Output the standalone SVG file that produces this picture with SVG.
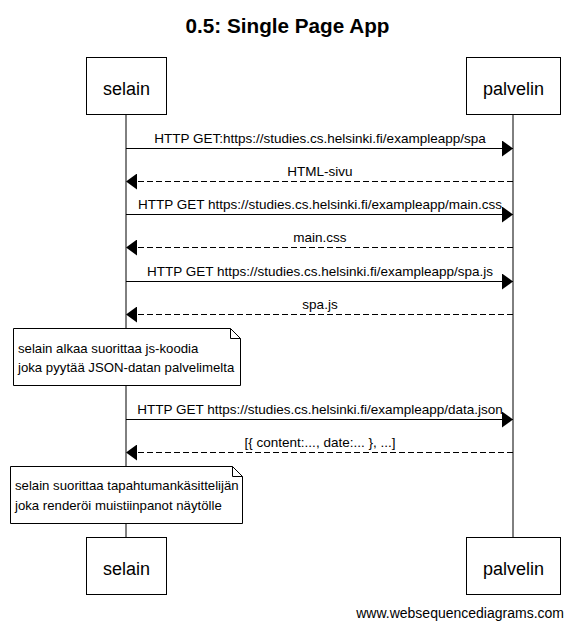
<svg xmlns="http://www.w3.org/2000/svg" width="575" height="629" viewBox="0 0 575 629">
<style>
text{font-family:"Liberation Sans",Arial,sans-serif;fill:#000}
.t{font-size:13.2px}
.a{font-size:18px;text-anchor:middle}
.m{font-size:13.5px;text-anchor:middle}
.box{fill:#fff;stroke:#000;stroke-width:1}
.ll{stroke:#000;stroke-width:1}
.sol{stroke:#000;stroke-width:1;fill:none}
.dash{stroke:#000;stroke-width:1;fill:none;stroke-dasharray:6,3}
</style>
<defs>
<marker id="ah" markerWidth="11" markerHeight="16" refX="11" refY="8" orient="auto" markerUnits="userSpaceOnUse">
<path d="M0,0 L11,8 L0,16 Z" fill="#000"/>
</marker>
</defs>
<rect width="575" height="629" fill="#fff"/>
<text x="287.5" y="33" style="font-size:20.7px;font-weight:bold;text-anchor:middle">0.5: Single Page App</text>
<g id="lifelines">
<line class="ll" x1="126" y1="114" x2="126" y2="537"/>
<line class="ll" x1="513" y1="114" x2="513" y2="537"/>
</g>
<g id="selain-top"><rect class="box" x="86.5" y="57.5" width="80" height="57"/><text class="a" x="126.5" y="95">selain</text></g>
<g id="palvelin-top"><rect class="box" x="466.5" y="57.5" width="94" height="57"/><text class="a" x="513.5" y="95">palvelin</text></g>
<g id="selain-bottom"><rect class="box" x="86.5" y="537.5" width="80" height="57"/><text class="a" x="126.5" y="575">selain</text></g>
<g id="palvelin-bottom"><rect class="box" x="466.5" y="537.5" width="94" height="57"/><text class="a" x="513.5" y="575">palvelin</text></g>
<g id="connectors">
<line class="sol" x1="126" y1="148.5" x2="513" y2="148.5" marker-end="url(#ah)"/>
<text class="m" x="320" y="143">HTTP GET:https://studies.cs.helsinki.fi/exampleapp/spa</text>
<line class="dash" x1="513" y1="181.5" x2="126" y2="181.5" marker-end="url(#ah)"/>
<text class="m" x="320" y="176">HTML-sivu</text>
<line class="sol" x1="126" y1="214.5" x2="513" y2="214.5" marker-end="url(#ah)"/>
<text class="m" x="320" y="209">HTTP GET https://studies.cs.helsinki.fi/exampleapp/main.css</text>
<line class="dash" x1="513" y1="247.5" x2="126" y2="247.5" marker-end="url(#ah)"/>
<text class="m" x="320" y="242">main.css</text>
<line class="sol" x1="126" y1="281.5" x2="513" y2="281.5" marker-end="url(#ah)"/>
<text class="m" x="320" y="276">HTTP GET https://studies.cs.helsinki.fi/exampleapp/spa.js</text>
<line class="dash" x1="513" y1="314.5" x2="126" y2="314.5" marker-end="url(#ah)"/>
<text class="m" x="320" y="309">spa.js</text>
<line class="sol" x1="126" y1="419.5" x2="513" y2="419.5" marker-end="url(#ah)"/>
<text class="m" x="320" y="414">HTTP GET https://studies.cs.helsinki.fi/exampleapp/data.json</text>
<line class="dash" x1="513" y1="452.5" x2="126" y2="452.5" marker-end="url(#ah)"/>
<text class="m" x="320" y="447">[{ content:..., date:... }, ...]</text>
</g>
<g id="note1">
<path class="box" d="M13.5,328.5 H230.5 L240.5,338.5 V385.5 H13.5 Z"/>
<path class="sol" d="M230.5,328.5 V338.5 H240.5"/>
<text class="t" x="18" y="353">selain alkaa suorittaa js-koodia</text>
<text class="t" x="18" y="372">joka pyytää JSON-datan palvelimelta</text>
</g>
<g id="note2">
<path class="box" d="M10.5,466.5 H232.5 L242.5,476.5 V523.5 H10.5 Z"/>
<path class="sol" d="M232.5,466.5 V476.5 H242.5"/>
<text class="t" x="15" y="490">selain suorittaa tapahtumankäsittelijän</text>
<text class="t" x="15" y="510">joka renderöi muistiinpanot näytölle</text>
</g>
<text x="564" y="618" style="font-size:14px;text-anchor:end">www.websequencediagrams.com</text>
</svg>
